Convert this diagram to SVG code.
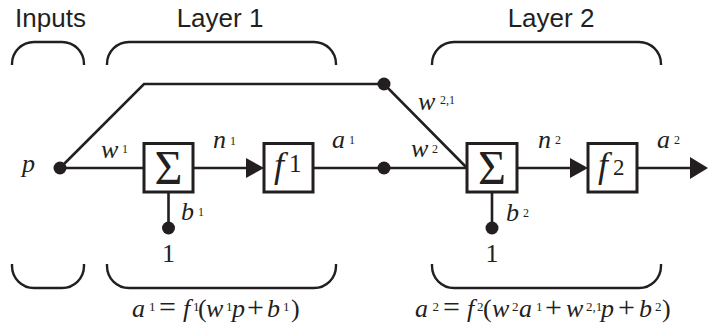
<svg xmlns="http://www.w3.org/2000/svg" width="708" height="323" viewBox="0 0 708 323">
<style>
.ln{fill:none;stroke:#231f20;stroke-width:2.6}
.bx{fill:#fff;stroke:#231f20;stroke-width:3}
.br{fill:none;stroke:#231f20;stroke-width:2.4}
.dot{fill:#231f20}
.ah{fill:#231f20}
.t{font-family:"Liberation Sans",Arial,sans-serif;font-size:26px;fill:#231f20}
.m{font-family:"Liberation Serif","Times New Roman",serif;fill:#231f20}
.i{font-style:italic}
.s{font-size:13px;font-style:normal}
.op{font-size:30px;font-style:normal}
</style>
<rect width="708" height="323" fill="#fff"/>
<g id="titles">
<text class="t" x="50.5" y="27" text-anchor="middle">Inputs</text>
<text class="t" x="220" y="27" text-anchor="middle">Layer 1</text>
<text class="t" x="551" y="27" text-anchor="middle">Layer 2</text>
</g>
<g id="braces">
<path class="br" d="M12,65 V64 A22,22 0 0 1 34,42 H62 A22,22 0 0 1 84,64 V65"/>
<path class="br" d="M107,65 V64 A22,22 0 0 1 129,42 H314 A22,22 0 0 1 336,64 V65"/>
<path class="br" d="M432,65 V64 A22,22 0 0 1 454,42 H639 A22,22 0 0 1 661,64 V65"/>
<path class="br" d="M12,264 V266 A22,22 0 0 0 34,288 H62 A22,22 0 0 0 84,266 V264"/>
<path class="br" d="M107,264 V266 A22,22 0 0 0 129,288 H314 A22,22 0 0 0 336,266 V264"/>
<path class="br" d="M432,264 V266 A22,22 0 0 0 454,288 H639 A22,22 0 0 0 661,266 V264"/>
</g>
<g id="connectors">
<path class="ln" d="M60,168 H144"/>
<path class="ln" d="M60,168 L144,84 H384 L467,168"/>
<path class="ln" d="M193,168 H248"/>
<polygon class="ah" points="246,158 264,168 246,178"/>
<path class="ln" d="M313,168 H467"/>
<path class="ln" d="M168.5,192 V228"/>
<path class="ln" d="M492,192 V228"/>
<path class="ln" d="M517,168 H572"/>
<polygon class="ah" points="570,158 588,168 570,178"/>
<path class="ln" d="M637,168 H692"/>
<polygon class="ah" points="690,157 708,168 690,179"/>
</g>
<g id="input-p">
<circle class="dot" cx="60" cy="168" r="6.5"/>
<text class="m i" x="22" y="172" font-size="26">p</text>
</g>
<g id="split-p">
<circle class="dot" cx="384" cy="84" r="6.5"/>
</g>
<g id="split-a1">
<circle class="dot" cx="384" cy="168" r="6.5"/>
</g>
<g id="sum1">
<rect class="bx" x="144" y="143.5" width="49" height="48.5"/>
<text class="m" x="168.5" y="183.5" font-size="48" text-anchor="middle">Σ</text>
</g>
<g id="f1">
<rect class="bx" x="264" y="143.5" width="49" height="48.5"/>
<text class="m i" x="274" y="177" font-size="36">f</text>
<text class="m" x="289" y="172" font-size="25">1</text>
</g>
<g id="bias1">
<circle class="dot" cx="168.5" cy="228" r="6.5"/>
<text class="m" x="168.5" y="262" font-size="26" text-anchor="middle">1</text>
</g>
<g id="sum2">
<rect class="bx" x="467" y="143.5" width="50" height="48.5"/>
<text class="m" x="492" y="183.5" font-size="48" text-anchor="middle">Σ</text>
</g>
<g id="f2">
<rect class="bx" x="588" y="143.5" width="49" height="48.5"/>
<text class="m i" x="598" y="177" font-size="36">f</text>
<text class="m" x="613" y="175" font-size="23">2</text>
</g>
<g id="bias2">
<circle class="dot" cx="492" cy="228" r="6.5"/>
<text class="m" x="492" y="262" font-size="26" text-anchor="middle">1</text>
</g>
<g id="labels">
<text class="m i" x="101" y="158" font-size="26">w</text><text class="m" x="122" y="153" font-size="12">1</text>
<text class="m i" x="213" y="148" font-size="26">n</text><text class="m" x="230" y="145" font-size="12">1</text>
<text class="m i" x="332" y="148" font-size="26">a</text><text class="m" x="349" y="144" font-size="12">1</text>
<text class="m i" x="418" y="110" font-size="26">w</text><text class="m" x="440" y="104" font-size="12">2,1</text>
<text class="m i" x="411" y="157" font-size="26">w</text><text class="m" x="432" y="153" font-size="12">2</text>
<text class="m i" x="538" y="148" font-size="26">n</text><text class="m" x="555" y="144" font-size="12">2</text>
<text class="m i" x="657" y="148" font-size="26">a</text><text class="m" x="674" y="144" font-size="12">2</text>
<text class="m i" x="181" y="220" font-size="26">b</text><text class="m" x="198" y="216" font-size="12">1</text>
<text class="m i" x="506" y="221" font-size="26">b</text><text class="m" x="523" y="217" font-size="12">2</text>
</g>
<g id="eq1">
<text class="m" font-size="26" y="317"><tspan x="132" class="i">a</tspan><tspan x="149" y="311" class="s">1</tspan><tspan x="159" y="317" class="op">=</tspan><tspan x="183" class="i">f</tspan><tspan x="193" y="311" class="s">1</tspan><tspan x="198" y="317">(</tspan><tspan x="206" class="i">w</tspan><tspan x="226" y="311" class="s">1</tspan><tspan x="232" y="317" class="i">p</tspan><tspan x="247" class="op">+</tspan><tspan x="267" class="i">b</tspan><tspan x="283" y="311" class="s">1</tspan><tspan x="291" y="317">)</tspan></text>
</g>
<g id="eq2">
<text class="m" font-size="26" y="317"><tspan x="415" class="i">a</tspan><tspan x="432.5" y="311" class="s">2</tspan><tspan x="443" y="317" class="op">=</tspan><tspan x="467" class="i">f</tspan><tspan x="477" y="311" class="s">2</tspan><tspan x="483" y="317">(</tspan><tspan x="492" class="i">w</tspan><tspan x="512" y="311" class="s">2</tspan><tspan x="519" y="317" class="i">a</tspan><tspan x="536" y="311" class="s">1</tspan><tspan x="545" y="317" class="op">+</tspan><tspan x="566" class="i">w</tspan><tspan x="586" y="311" class="s">2,1</tspan><tspan x="601" y="317" class="i">p</tspan><tspan x="618" class="op">+</tspan><tspan x="639" class="i">b</tspan><tspan x="655" y="311" class="s">2</tspan><tspan x="662" y="317">)</tspan></text>
</g>
</svg>
